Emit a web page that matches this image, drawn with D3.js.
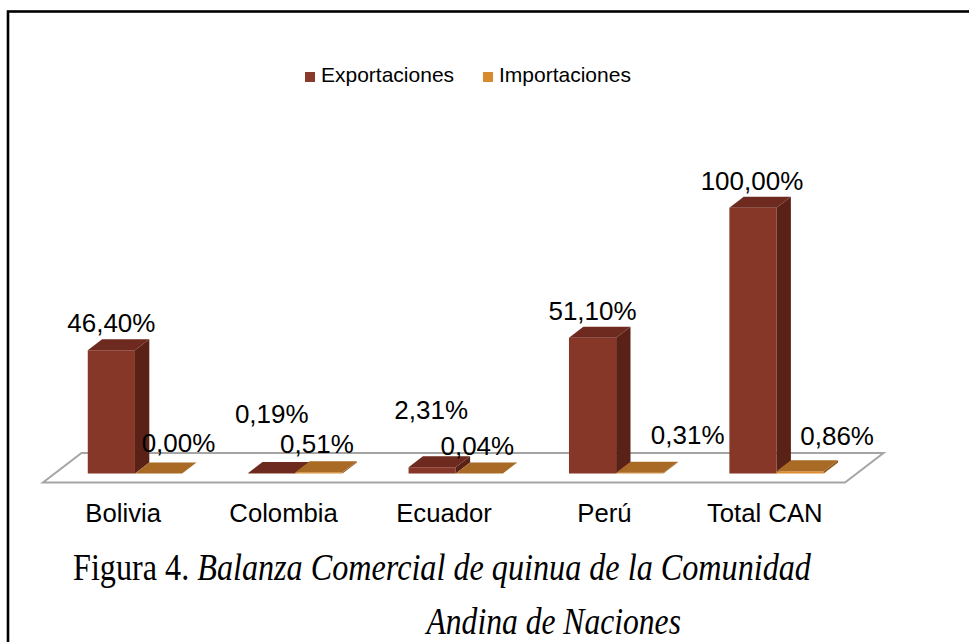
<!DOCTYPE html>
<html>
<head>
<meta charset="utf-8">
<script src="https://cdn.jsdelivr.net/npm/d3@7/dist/d3.min.js"></script>
<style>
  html, body { margin: 0; padding: 0; background: #fff; }
  svg { display: block; }
</style>
</head>
<body>
<script>
// ---- data ----
const categories = ["Bolivia", "Colombia", "Ecuador", "Perú", "Total CAN"];
const seriesNames = ["Exportaciones", "Importaciones"];
const exportaciones = [46.40, 0.19, 2.31, 51.10, 100.00];
const importaciones = [0.00, 0.51, 0.04, 0.31, 0.86];
const captionPrefix = "Figura 4. ";
const captionLine1 = "Balanza Comercial de quinua de la Comunidad";
const captionLine2 = "Andina de Naciones";

// ---- layout / style (not data) ----
const W = 969, H = 642;
const colors = {
  Exportaciones: { front: "#863727", side: "#5a2117", top: "#6e2a1e", legend: "#8a3a2a" },
  Importaciones: { front: "#dc8d31", side: "#8f581c", top: "#a86a24", legend: "#d98a2f" }
};
// manual label nudges (px) for each series/category, as placed in the original
const labelNudge = {
  Exportaciones: [[0, 0], [0, -32], [-1, -30], [0, 0], [-1, 0]],
  Importaciones: [[20, -4], [-2, -1], [-2, 0], [48, -11], [37, -8]]
};

const floorFront = { x0: 43, x1: 845, y: 482.5 };
const depthVec = { dx: 38.5, dy: -29.5 };
const barZ0 = 0.305, barZ1 = 0.678;

const svg = d3.select("body").append("svg").attr("width", W).attr("height", H);

// frame
svg.append("rect").attr("x", 8).attr("y", 11.5).attr("width", W + 20).attr("height", H + 20)
  .attr("fill", "none").attr("stroke", "#000").attr("stroke-width", 2.6);

// projection: x along front, h height in px, z depth fraction
function P(x, h, z) {
  return [x + z * depthVec.dx, floorFront.y - h + z * depthVec.dy];
}
const poly = pts => "M" + pts.map(p => p.join(",")).join("L") + "Z";

const x0 = d3.scaleBand().domain(categories).range([floorFront.x0, floorFront.x1]).padding(0);
const x1 = d3.scaleBand().domain(seriesNames).range([0, x0.bandwidth()]).paddingInner(0).paddingOuter(0.70);
const baseY = floorFront.y; // heights measured from the floor plane
const yH = d3.scaleLinear().domain([0, 100]).range([0, 265.7]);

// floor
const floor = [
  P(floorFront.x0, 0, 0), P(floorFront.x1, 0, 0), P(floorFront.x1, 0, 1), P(floorFront.x0, 0, 1)
];
svg.append("path").attr("d", poly(floor)).attr("fill", "#fff")
  .attr("stroke", "#a5a5a5").attr("stroke-width", 2);

const seriesData = { Exportaciones: exportaciones, Importaciones: importaciones };
const fmt = v => d3.format(".2f")(v).replace(".", ",") + "%";

const barsG = svg.append("g");
const labelsG = svg.append("g");

categories.forEach((cat, ci) => {
  seriesNames.forEach((s, si) => {
    const v = seriesData[s][ci];
    const xl = x0(cat) + x1(s);
    const xr = xl + x1.bandwidth();
    const h = yH(v);
    const c = colors[s];
    const g = barsG.append("g");
    // front face
    g.append("path").attr("d", poly([P(xl, 0, barZ0), P(xr, 0, barZ0), P(xr, h, barZ0), P(xl, h, barZ0)]))
      .attr("fill", c.front);
    // right side
    g.append("path").attr("d", poly([P(xr, 0, barZ0), P(xr, 0, barZ1), P(xr, h, barZ1), P(xr, h, barZ0)]))
      .attr("fill", c.side);
    // top
    g.append("path").attr("d", poly([P(xl, h, barZ0), P(xr, h, barZ0), P(xr, h, barZ1), P(xl, h, barZ1)]))
      .attr("fill", c.top);

    const ft = P((xl + xr) / 2, h, barZ0);
    const nd = labelNudge[s][ci];
    labelsG.append("text")
      .attr("x", ft[0] + nd[0]).attr("y", ft[1] - 18 + nd[1])
      .attr("text-anchor", "middle")
      .attr("font-family", "'Liberation Sans', Arial, sans-serif")
      .attr("font-size", 26).attr("fill", "#000")
      .text(fmt(v));
  });
});

// category labels
svg.append("g").selectAll("text").data(categories).join("text")
  .attr("x", d => x0(d) + x0.bandwidth() / 2)
  .attr("y", 522)
  .attr("text-anchor", "middle")
  .attr("font-family", "'Liberation Sans', Arial, sans-serif")
  .attr("font-size", 25.7).attr("fill", "#000")
  .text(d => d);

// legend
const legend = svg.append("g");
const legendX = [305, 483];
seriesNames.forEach((s, i) => {
  legend.append("rect").attr("x", legendX[i]).attr("y", 72).attr("width", 10).attr("height", 10)
    .attr("fill", colors[s].legend);
  legend.append("text").attr("x", legendX[i] + 16).attr("y", 82)
    .attr("font-family", "'Liberation Sans', Arial, sans-serif")
    .attr("font-size", 21).attr("fill", "#000").text(s);
});

// caption
function fitText(sel, xLeft, targetW) {
  const bb = sel.node().getBBox();
  const sx = targetW / bb.width;
  sel.attr("transform", `translate(${xLeft},0) scale(${sx},1) translate(${-bb.x},0)`);
}
const cap1 = svg.append("text").attr("x", 0).attr("y", 580)
  .attr("font-family", "'Liberation Serif', 'Times New Roman', serif")
  .attr("font-size", 38).attr("fill", "#000");
cap1.append("tspan").text(captionPrefix);
cap1.append("tspan").attr("font-style", "italic").text(captionLine1);
cap1.attr("xml:space", "preserve").style("white-space", "pre");
fitText(cap1, 73, 739);

const cap2 = svg.append("text").attr("x", 0).attr("y", 634)
  .attr("font-family", "'Liberation Serif', 'Times New Roman', serif")
  .attr("font-size", 38).attr("font-style", "italic").attr("fill", "#000")
  .text(captionLine2);
fitText(cap2, 424, 257);
</script>
</body>
</html>
